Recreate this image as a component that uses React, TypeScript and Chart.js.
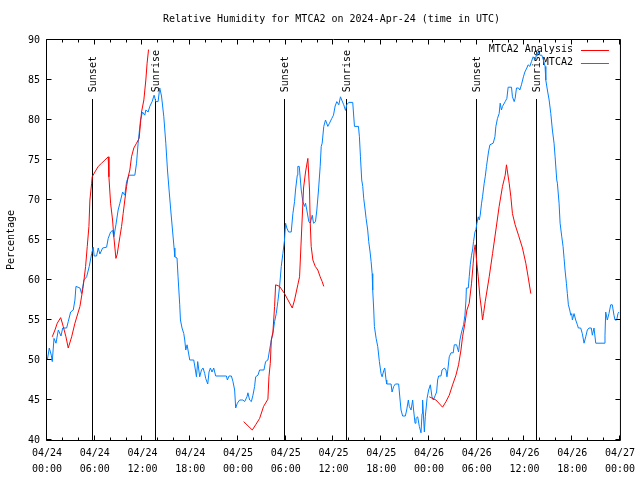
import React, { useEffect, useRef } from 'react';
import { Chart, registerables } from 'chart.js';

Chart.register(...registerables);

const chartTitle = 'Relative Humidity for MTCA2 on 2024-Apr-24 (time in UTC)';
const yAxisTitle = 'Percentage';
const seriesNames = ['MTCA2 Analysis', 'MTCA2'];
const seriesColors = ['#ff0000', '#0080ff'];

// hours since 2024-04-24 00:00 UTC
const stationHours = [
  0.04, 0.29, 0.54, 0.66, 0.88, 1.13, 1.42, 1.76, 1.97, 2.47, 2.67, 2.97, 3.3, 3.51, 3.64, 4.14, 4.35, 4.64, 4.98, 5.31,
  5.61, 5.81, 5.93, 6.23, 6.44, 6.65, 6.99, 7.49, 7.69, 7.99, 8.24, 8.4, 8.66, 8.94, 9.16, 9.5, 9.78, 10.0, 10.32, 11.04,
  11.25, 11.45, 11.75, 12.0, 12.29, 12.42, 12.71, 12.92, 13.21, 13.46, 13.67, 13.96, 14.17, 14.39, 14.68, 14.93, 15.14, 15.34, 15.55, 15.77,
  15.97, 16.06, 16.34, 16.47, 16.68, 16.77, 16.97, 17.19, 17.31, 17.44, 17.6, 17.72, 17.94, 18.44, 18.69, 18.78, 18.94, 19.19, 19.41, 19.61,
  19.82, 19.94, 20.2, 20.36, 20.53, 20.74, 20.95, 21.2, 22.54, 22.67, 22.87, 23.17, 23.37, 23.58, 23.71, 23.92, 24.21, 24.62, 24.84, 25.13,
  25.25, 25.46, 25.68, 25.88, 26.09, 26.22, 26.51, 26.72, 27.26, 27.47, 27.76, 27.97, 28.19, 28.39, 28.6, 28.81, 29.01, 29.23, 29.44, 29.64,
  29.85, 29.98, 30.14, 30.36, 30.69, 30.9, 31.11, 31.23, 31.45, 31.52, 31.7, 31.95, 32.15, 32.36, 32.49, 32.65, 32.9, 33.08, 33.33, 33.49,
  33.74, 33.91, 34.12, 34.33, 34.46, 34.58, 34.78, 35.0, 35.29, 35.5, 35.79, 36.0, 36.21, 36.42, 36.67, 36.88, 37.04, 37.29, 37.51, 37.67,
  37.92, 38.42, 38.64, 39.14, 39.26, 39.39, 39.55, 39.68, 39.8, 39.98, 40.1, 40.3, 40.43, 40.6, 40.73, 40.86, 40.93, 41.06, 41.14, 41.36,
  41.56, 41.77, 41.98, 42.11, 42.27, 42.44, 42.61, 42.69, 43.24, 43.36, 43.57, 43.78, 44.19, 44.37, 44.49, 44.69, 45.03, 45.2, 45.41, 45.53,
  45.75, 45.95, 46.07, 46.25, 46.37, 46.58, 46.79, 47.0, 47.13, 47.2, 47.42, 47.54, 47.76, 47.96, 48.17, 48.38, 48.55, 48.8, 48.96, 49.09,
  49.21, 49.51, 49.64, 49.93, 50.14, 50.26, 50.34, 50.55, 50.77, 51.05, 51.18, 51.47, 51.72, 51.89, 52.1, 52.35, 52.52, 52.65, 52.7, 52.94,
  53.06, 53.19, 53.35, 53.48, 53.6, 53.78, 53.9, 54.03, 54.19, 54.32, 54.44, 54.61, 54.73, 54.94, 55.07, 55.23, 55.48, 55.66, 56.07, 56.29,
  56.41, 56.61, 56.82, 56.95, 57.11, 57.24, 57.58, 57.79, 57.95, 58.37, 58.49, 58.71, 58.83, 59.0, 59.25, 59.42, 59.62, 59.87, 60.05, 60.3,
  60.46, 60.68, 60.88, 61.09, 61.34, 61.5, 61.72, 61.93, 62.18, 62.38, 62.59, 62.68, 62.88, 63.1, 63.31, 63.51, 63.72, 63.85, 64.06, 64.14,
  64.35, 64.48, 64.69, 64.85, 64.98, 65.1, 65.27, 65.39, 65.52, 65.69, 65.82, 65.94, 66.02, 66.23, 66.44, 66.65, 66.77, 67.07, 67.27, 67.49,
  67.7, 67.9, 68.11, 68.4, 68.53, 68.74, 68.96, 70.0, 70.12, 70.21, 70.41, 70.62, 70.84, 71.04, 71.25, 71.38, 71.59, 71.75, 71.88,
];
const stationValues = [
  50, 51.5, 50.6, 49.8, 52.7, 52.1, 53.75, 53, 54, 54, 54.8, 56, 56.25, 57.5, 59.2, 59, 58.3, 60, 60.4, 61.7,
  63.3, 64.1, 63, 63, 64, 63.25, 64, 64.1, 65.2, 66, 66.2, 65.4, 66.9, 68.75, 69.6, 71, 70.6, 72.3, 73.1, 73.1,
  74.6, 77.1, 80, 81, 80.6, 81.25, 81, 81.7, 82.3, 83.1, 82.3, 82.3, 84, 83, 80.4, 77.1, 73.75, 71.25, 68.75, 66.25,
  64, 62.9, 62.75, 60.4, 56.9, 55, 54, 53.3, 52.5, 51.25, 51.9, 51.25, 50, 50, 48.5, 47.9, 49.8, 47.9, 48.75, 49,
  48.3, 47.7, 47, 48.5, 49, 48.5, 49, 48, 48, 47.5, 48, 48, 47.3, 46.25, 44, 44.6, 45, 45, 44.8, 45.4,
  45.9, 45, 44.8, 45.6, 46.7, 47.9, 48.1, 48.75, 48.75, 49.8, 50, 51.25, 52.5, 53.3, 54.8, 55.8, 57.3, 59.2, 61.7, 63.3,
  65, 67.1, 66.5, 66, 66, 68.3, 69.8, 71.25, 73.1, 74.2, 74.2, 71.25, 69.8, 69.2, 69.6, 68.75, 67.3, 67.1, 68.1, 67.1,
  67.3, 68.75, 71.25, 74.2, 76.7, 77.1, 79.2, 80, 79.2, 79.6, 80.2, 80.6, 81.75, 82.3, 81.9, 82.9, 82.5, 81.9, 81.2, 81.9,
  82.2, 82.2, 79.2, 79.2, 77.9, 75.4, 72.5, 71.7, 70.2, 68.75, 67.7, 66.25, 64.8, 63.5, 62.3, 60.8, 58.75, 56.25, 54.2, 52.7,
  51.7, 49.8, 48.3, 47.9, 48.5, 49, 47.5, 47, 47, 46, 46.7, 47, 47, 45, 43.75, 43, 43, 43.75, 45, 44.2,
  43.75, 45, 43.75, 42.1, 42.7, 42.9, 41.7, 40.9, 43.3, 45, 41, 42.9, 45.2, 46.25, 46.9, 45.4, 45, 45.6, 46, 47.5,
  48, 48, 48.75, 49, 48.75, 47.9, 48.5, 50.4, 50.9, 50.9, 51.9, 51.9, 51, 52.5, 53.5, 54.4, 55.6, 57.5, 59, 59,
  60.4, 61.9, 63.1, 63.75, 64.8, 66, 66.3, 67.1, 67.9, 67.5, 68.1, 69.6, 70.4, 72.1, 72.9, 74.2, 76, 76.9, 77.1, 77.9,
  79.2, 80.2, 80.8, 82.1, 81.25, 81.7, 82.3, 82.7, 84.1, 84.1, 82.9, 82.3, 82.7, 84, 84, 83.75, 84.4, 85.4, 86, 86.5,
  86.9, 86.7, 87.3, 87.9, 87.5, 88.1, 88.5, 88.1, 88.1, 87.5, 86.7, 85, 83.75, 82.5, 80.8, 78.75, 77.1, 75.4, 72.5, 72.1,
  69.6, 67.1, 65.4, 64.2, 62.7, 61.25, 59.6, 58.3, 56.9, 56.25, 55.6, 55.8, 55, 55.8, 55, 54.4, 54, 54, 53.3, 52.1,
  52.9, 53.75, 54, 54, 53.1, 54, 52.1, 52.1, 53.1, 56, 55, 55.8, 56.9, 56.9, 55.6, 55, 55, 55.8, 56,
];

// null values separate the analysis runs
const analysisHours = [
  0.66, 1.0, 1.29, 1.72, 2.04, 2.38, 2.67, 3.1, 3.51, 3.93, 4.14, 4.55, 4.85, 5.06, 5.27, 5.39, 5.61, 5.68, 6.02, 6.44,
  6.86, 7.28, 7.69, 7.78, 7.99, 8.24, 8.4, 8.66, 8.82, 8.94, 9.16, 9.37, 9.57, 9.78, 10.0, 10.2, 10.41, 10.62, 10.91, 11.25,
  11.58, 11.75, 11.88, 12.17, 12.42, 12.58, 12.76,
  18,
  24.71, 25.8, 26.22, 26.72, 27.22, 27.76, 27.89, 28.06, 28.19, 28.39, 28.6, 28.73, 29.23, 29.85, 30.82, 31.11, 31.52, 31.74, 31.99, 32.24,
  32.49, 32.78, 32.99, 33.08, 33.2, 33.41, 33.71, 34.03, 34.33, 34.58, 34.78,
  42,
  48.04, 48.88, 49.71, 50.14, 50.55, 50.97, 51.39, 51.72, 52.02, 52.22, 52.52, 52.77, 53.06, 53.35, 53.56, 53.69, 53.81, 53.98, 54.19, 54.4,
  54.61, 54.73, 54.86, 55.07, 55.57, 55.99, 56.41, 56.82, 57.24, 57.58, 57.74, 57.87, 58.08, 58.29, 58.49, 58.83, 59.25, 59.75, 60.17, 60.46,
  60.8,
];
const analysisValues = [
  52.9, 53.75, 54.6, 55.3, 54.2, 52.9, 51.5, 52.9, 54.6, 56, 56.7, 59.2, 61.7, 64.2, 66.7, 70, 72.1, 72.9, 73.5, 74.2,
  74.6, 75, 75.4, 72.9, 69.6, 67.5, 65.4, 62.7, 63.2, 64, 65.4, 66.7, 68.3, 70, 71.7, 72.9, 73.75, 75.4, 76.5, 77.1,
  77.7, 79.6, 81, 82.5, 85, 87.1, 88.8,
  null,
  42.3, 41.25, 41.9, 42.7, 44.2, 45.1, 47.9, 49.6, 52.5, 53.5, 56.7, 59.4, 59.2, 58.3, 56.5, 57.5, 59.4, 60.4, 66, 71.5,
  73.5, 75.2, 71.25, 67.1, 64.2, 62.5, 61.7, 61.25, 60.4, 59.8, 59.2,
  null,
  45.4, 45, 44.1, 44.8, 45.6, 46.9, 48.1, 49.4, 51.25, 52.9, 54.6, 56.25, 57.1, 59.6, 62.1, 63.75, 64.4, 62.5, 60.4, 57.9,
  56.25, 55, 55.8, 57.3, 60.4, 63.3, 66.25, 69.2, 71.7, 73.1, 74.4, 73.5, 72.1, 70.4, 68.3, 66.9, 65.6, 64, 62.1, 60.4,
  58.3,
];

const sunEventHours = [5.67, 13.6, 29.8, 37.57, 53.87, 61.5];
const sunEventLabels = ['Sunset', 'Sunrise', 'Sunset', 'Sunrise', 'Sunset', 'Sunrise'];
const sunLineTopValue = 82.6;

const xTickHours = [0, 6, 12, 18, 24, 30, 36, 42, 48, 54, 60, 66, 72];
const xTickDates = ['04/24', '04/24', '04/24', '04/24', '04/25', '04/25', '04/25', '04/25', '04/26', '04/26', '04/26', '04/26', '04/27'];
const xTickTimes = ['00:00', '06:00', '12:00', '18:00', '00:00', '06:00', '12:00', '18:00', '00:00', '06:00', '12:00', '18:00', '00:00'];
const xMinorStepHours = 2;
const yTickValues = [40, 45, 50, 55, 60, 65, 70, 75, 80, 85, 90];

const FONT_FAMILY = '"DejaVu Sans Mono", "Liberation Mono", monospace';
const FONT = `10px ${FONT_FAMILY}`;

const decorPlugin = {
  id: 'gnuplotDecor',
  beforeDatasetsDraw(chart: any) {
    const { ctx, chartArea, scales } = chart;
    const xs = scales.x;
    const ys = scales.y;
    ctx.save();
    // title
    ctx.fillStyle = '#000';
    ctx.font = FONT;
    ctx.textAlign = 'center';
    ctx.textBaseline = 'middle';
    ctx.fillText(chartTitle, (chartArea.left + chartArea.right) / 2 - 2, chartArea.top - 21);

    // sunrise / sunset markers
    const topY = ys.getPixelForValue(sunLineTopValue);
    sunEventHours.forEach((h, i) => {
      const px = Math.round(xs.getPixelForValue(h)) + 0.5;
      ctx.strokeStyle = '#000';
      ctx.lineWidth = 1;
      ctx.beginPath();
      ctx.moveTo(px, Math.round(topY));
      ctx.lineTo(px, chartArea.bottom);
      ctx.stroke();
      ctx.save();
      ctx.translate(px + 1, topY - 7);
      ctx.rotate(-Math.PI / 2);
      ctx.textAlign = 'left';
      ctx.textBaseline = 'middle';
      ctx.fillStyle = '#000';
      ctx.fillText(sunEventLabels[i], 0, 0);
      ctx.restore();
    });

    // legend
    ctx.textAlign = 'right';
    ctx.textBaseline = 'middle';
    seriesNames.forEach((name, i) => {
      const y = chartArea.top + 9.5 + i * 13;
      ctx.fillStyle = '#000';
      ctx.fillText(name, chartArea.right - 47, y);
      ctx.strokeStyle = seriesColors[i];
      ctx.lineWidth = 1;
      ctx.beginPath();
      ctx.moveTo(chartArea.right - 39, Math.round(y) + 0.5);
      ctx.lineTo(chartArea.right - 11, Math.round(y) + 0.5);
      ctx.stroke();
    });
    ctx.restore();
  },
  afterDraw(chart: any) {
    const { ctx, chartArea, scales } = chart;
    const xs = scales.x;
    const ys = scales.y;
    const L = chartArea.left - 0.5;
    const R = chartArea.right + 0.5;
    const T = chartArea.top - 0.5;
    const B = chartArea.bottom + 0.5;
    ctx.save();
    ctx.strokeStyle = '#000';
    ctx.lineWidth = 1;
    ctx.beginPath();
    ctx.rect(L, T, R - L, B - T);
    // y ticks (left + mirrored right)
    yTickValues.forEach((v) => {
      const py = Math.round(ys.getPixelForValue(v)) - 0.5;
      ctx.moveTo(L, py);
      ctx.lineTo(L + 5, py);
      ctx.moveTo(R, py);
      ctx.lineTo(R - 5, py);
    });
    // x ticks (bottom + mirrored top)
    for (let h = xs.min; h <= xs.max; h += xMinorStepHours) {
      const major = xTickHours.includes(h);
      const len = major ? 5 : 3;
      const px = Math.round(xs.getPixelForValue(h)) - 0.5;
      ctx.moveTo(px, B);
      ctx.lineTo(px, B - len);
      ctx.moveTo(px, T);
      ctx.lineTo(px, T + len);
    }
    ctx.stroke();
    ctx.restore();
  },
};

export default function App() {
  const canvasRef = useRef<HTMLCanvasElement | null>(null);

  useEffect(() => {
    document.body.style.margin = '0';
    const canvas = canvasRef.current;
    if (!canvas) return;
    const chart = new Chart(canvas, {
      type: 'line',
      data: {
        datasets: [
          {
            label: seriesNames[0],
            data: analysisHours.map((h, i) => ({ x: h, y: analysisValues[i] })),
            borderColor: seriesColors[0],
            backgroundColor: seriesColors[0],
            borderWidth: 1,
            pointRadius: 0,
            spanGaps: false,
            tension: 0,
          },
          {
            label: seriesNames[1],
            data: stationHours.map((h, i) => ({ x: h, y: stationValues[i] })),
            borderColor: seriesColors[1],
            backgroundColor: seriesColors[1],
            borderWidth: 1,
            pointRadius: 0,
            tension: 0,
          },
        ],
      },
      options: {
        responsive: false,
        animation: false,
        layout: { padding: { top: 40, right: 19, left: 0, bottom: 0 } },
        plugins: {
          legend: { display: false },
          title: { display: false },
          tooltip: { enabled: false },
        },
        scales: {
          x: {
            type: 'linear',
            min: 0,
            max: 72,
            afterBuildTicks: (scale: any) => {
              scale.ticks = xTickHours.map((v) => ({ value: v }));
            },
            afterFit: (scale: any) => {
              scale.height = 40;
            },
            grid: { display: false, drawTicks: false },
            border: { display: false },
            ticks: {
              autoSkip: false,
              maxRotation: 0,
              minRotation: 0,
              padding: 5,
              color: '#000',
              font: { family: FONT_FAMILY, size: 10, lineHeight: 1.6 },
              callback: (value: any) => {
                const i = xTickHours.indexOf(Number(value));
                return i >= 0 ? [xTickDates[i], xTickTimes[i]] : '';
              },
            },
          },
          y: {
            type: 'linear',
            min: 40,
            max: 90,
            afterBuildTicks: (scale: any) => {
              scale.ticks = yTickValues.map((v) => ({ value: v }));
            },
            afterFit: (scale: any) => {
              scale.width = 47;
            },
            grid: { display: false, drawTicks: false },
            border: { display: false },
            ticks: {
              padding: 7,
              color: '#000',
              font: { family: FONT_FAMILY, size: 10 },
            },
            title: {
              display: true,
              text: yAxisTitle,
              color: '#000',
              font: { family: FONT_FAMILY, size: 10 },
              padding: { top: 5, bottom: 0 },
            },
          },
        },
      },
      plugins: [decorPlugin],
    } as any);
    return () => chart.destroy();
  }, []);

  return (
    <div style={{ position: 'absolute', left: 0, top: 0, width: 640, height: 480, background: '#fff' }}>
      <canvas ref={canvasRef} width={640} height={480} />
    </div>
  );
}
